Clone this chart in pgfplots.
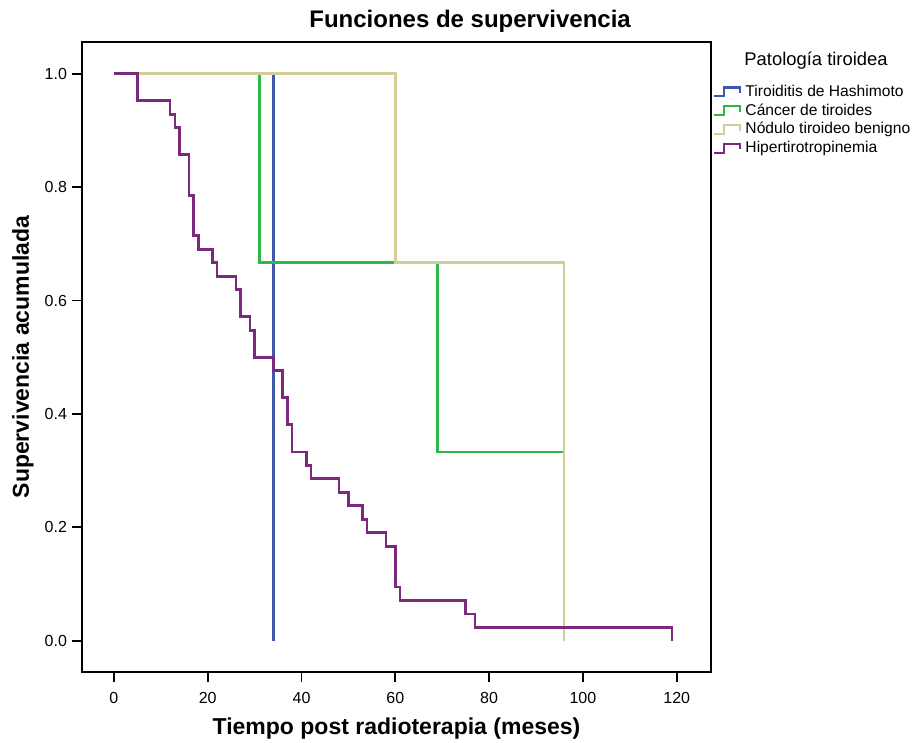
\documentclass[border=0pt]{standalone}
\usepackage{fontspec}
\setmainfont{Liberation Sans}
\usepackage{pgfplots}
\pgfplotsset{compat=1.18}

\definecolor{spssblue}{RGB}{62,88,172}
\definecolor{spssgreen}{RGB}{46,184,72}
\definecolor{spsstan}{RGB}{211,206,151}
\definecolor{spsspurple}{RGB}{124,40,125}

\pgfplotsset{
  kmlegend/.style={legend image code/.code={
    \draw[##1,line width=1.1pt] (0pt,-2.2pt) -- (5pt,-2.2pt) -- (5pt,2.2pt) -- (13pt,2.2pt) -- (13pt,-0.5pt);}}
}

\begin{document}
\begin{tikzpicture}
\useasboundingbox (-41pt,-35.5pt) rectangle (420.5pt,336pt);
\begin{axis}[
  at={(0,0)}, anchor=south west,
  width=314.5pt, height=315pt, scale only axis,
  xmin=-6.8, xmax=127.3, ymin=-0.055, ymax=1.056,
  clip=false,
  axis line style={line width=0.9pt},
  xtick={0,20,...,120}, ytick={0,0.2,...,1.0},
  xtick pos=left, ytick pos=left,
  tick align=outside, major tick length=5pt,
  tick style={line width=0.9pt, black},
  /pgf/number format/assume math mode=true,
  ticklabel style={font=\fontsize{8}{10}\selectfont},
  yticklabel style={/pgf/number format/.cd, fixed, fixed zerofill, precision=1, /tikz/.cd, xshift=1pt},
  xticklabel style={yshift=-1.5pt},
  xlabel={Tiempo post radioterapia (meses)},
  xlabel style={at={(axis description cs:0.5,-0.1)}, anchor=base, font=\bfseries\fontsize{11.5}{13}\selectfont},
  ylabel={Supervivencia acumulada},
  ylabel style={at={(axis description cs:-0.094,0.5)}, anchor=center, font=\bfseries\fontsize{11.5}{13}\selectfont},
  kmlegend,
  legend style={at={(axis description cs:1.003,0.939)}, anchor=north west, draw=none, fill=none,
    font=\fontsize{7.8}{9}\selectfont, inner sep=0pt, row sep=-1.8pt,
    /tikz/every even column/.append style={column sep=0pt}},
  legend cell align=left,
  every axis plot/.append style={line width=1.3pt, const plot},
]
\addplot[spssblue] coordinates {(0,1) (34,0)};
\addlegendentry{Tiroiditis de Hashimoto}
\addplot[spssgreen] coordinates {(0,1) (31,0.6667) (69,0.3333) (96,0.3333)};
\addlegendentry{Cáncer de tiroides}
\addplot[spsstan] coordinates {(0,1) (60,0.6667) (96,0)};
\addlegendentry{Nódulo tiroideo benigno}
\addplot[spsspurple] table[row sep=\\]{
t s \\
0 1 \\ 5 0.9524 \\ 12 0.9286 \\ 13 0.9048 \\ 14 0.8571 \\ 16 0.7857 \\
17 0.7143 \\ 18 0.6905 \\ 21 0.6667 \\ 22 0.6429 \\ 26 0.6190 \\ 27 0.5714 \\
29 0.5476 \\ 30 0.5000 \\ 34 0.4762 \\ 36 0.4286 \\ 37 0.3810 \\ 38 0.3333 \\
41 0.3095 \\ 42 0.2857 \\ 48 0.2619 \\ 50 0.2381 \\ 53 0.2143 \\ 54 0.1905 \\
58 0.1667 \\ 60 0.0952 \\ 61 0.0714 \\ 75 0.0476 \\ 77 0.0238 \\ 119 0 \\
};
\addlegendentry{Hipertirotropinemia}
\node[font=\fontsize{9.2}{11}\selectfont] at (axis description cs:1.167,0.97) {Patología tiroidea};
\node[font=\bfseries\fontsize{12}{14}\selectfont] at (axis description cs:0.617,1.033) {Funciones de supervivencia};
\end{axis}
\end{tikzpicture}
\end{document}
